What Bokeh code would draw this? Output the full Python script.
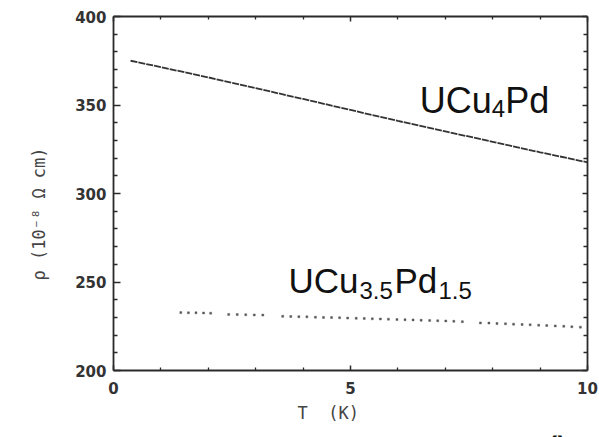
from bokeh.plotting import figure
from bokeh.models import Range1d, LinearAxis, FixedTicker, Label, Title
from bokeh.layouts import column
from bokeh.embed import file_html
from bokeh.resources import INLINE

# UCu4Pd resistivity (continuous trace), T in K, rho in 10^-8 ohm cm
cu4_t = [0.36, 1.0, 2.0, 3.0, 4.0, 5.0, 6.0, 7.0, 8.0, 9.0, 10.0]
cu4_rho = [375.0, 371.4, 365.6, 359.5, 353.4, 347.2, 341.0, 335.1, 329.2, 323.3, 317.6]

# UCu3.5Pd1.5 resistivity (sampled points)
pd15_t = [1.42, 1.58, 1.74, 1.90, 2.05,
          2.43, 2.61, 2.79, 2.97, 3.15,
          3.57, 3.74, 3.91, 4.08, 4.26, 4.43, 4.60, 4.77, 4.94, 5.12, 5.29, 5.46,
          5.63, 5.80, 5.98, 6.15, 6.32, 6.49, 6.67, 6.84, 7.01, 7.18, 7.36,
          7.74, 7.92, 8.09, 8.27, 8.44, 8.62, 8.79, 8.97, 9.14, 9.32, 9.50, 9.67, 9.85]
pd15_rho = [232.7, 232.6, 232.6, 232.5, 232.4,
            231.7, 231.6, 231.5, 231.4, 231.3,
            230.6, 230.5, 230.4, 230.3, 230.1, 230.0, 229.9, 229.8, 229.6, 229.5, 229.4, 229.2,
            229.1, 229.0, 228.8, 228.7, 228.6, 228.4, 228.3, 228.1, 228.0, 227.8, 227.6,
            226.9, 226.8, 226.6, 226.4, 226.2, 226.0, 225.8, 225.6, 225.4, 225.2, 225.0, 224.7, 224.5]

x_major = [0, 5, 10]
x_minor = [1, 2, 3, 4, 6, 7, 8, 9]
y_major = [200, 250, 300, 350, 400]
y_minor = [210, 220, 230, 240, 260, 270, 280, 290, 310, 320, 330, 340, 360, 370, 380, 390]

p = figure(width=599, height=430, output_backend="svg", toolbar_location=None,
           x_range=Range1d(0, 10), y_range=Range1d(200, 400),
           min_border_left=113, min_border_right=12, min_border_top=16, min_border_bottom=60,
           x_axis_location=None, y_axis_location=None)
p.outline_line_color = None
p.xgrid.visible = False
p.ygrid.visible = False
p.background_fill_color = "white"
p.border_fill_color = "white"

AX = "#2a2a2a"


def style_axis(ax, ticks, minors, tin, mtin, labels=True):
    ax.ticker = FixedTicker(ticks=ticks, minor_ticks=minors)
    ax.axis_line_color = AX
    ax.axis_line_width = 1.8
    ax.major_tick_line_color = AX
    ax.minor_tick_line_color = AX
    ax.major_tick_line_width = 1.5
    ax.minor_tick_line_width = 1.3
    ax.major_tick_in = tin
    ax.major_tick_out = 0
    ax.minor_tick_in = mtin
    ax.minor_tick_out = 0
    if labels:
        ax.major_label_text_font = "DejaVu Sans"
        ax.major_label_text_font_style = "bold"
        ax.major_label_text_font_size = "15px"
        ax.major_label_text_color = "#333333"
    else:
        ax.major_label_text_color = None
        ax.major_label_text_font_size = "1px"
        ax.major_label_standoff = 0


left = LinearAxis()
style_axis(left, y_major, y_minor, 7, 4)
left.major_label_standoff = 7
p.add_layout(left, "left")

right = LinearAxis()
style_axis(right, y_major, y_minor, 5, 4, labels=False)
p.add_layout(right, "right")

bottom = LinearAxis()
style_axis(bottom, x_major, x_minor, 5, 3)
bottom.major_label_standoff = 11
p.add_layout(bottom, "below")

top = LinearAxis()
style_axis(top, x_major, x_minor, 5, 3, labels=False)
p.add_layout(top, "above")

# axis titles, set in a typewriter face
p.add_layout(Title(text="T\u00a0\u00a0(K)", align="left", offset=184, standoff=8,
                   text_font="DejaVu Sans Mono", text_font_size="17px",
                   text_font_style="normal", text_color="#444444"), "below")
p.add_layout(Title(text="ρ (10⁻⁸ Ω cm)", align="left", offset=90, standoff=48,
                   text_font="DejaVu Sans Mono", text_font_size="17px",
                   text_font_style="normal", text_color="#444444"), "left")

# data
p.line(cu4_t, cu4_rho, line_color="#333333", line_width=1.8, line_dash="7 1")
p.scatter(pd15_t, pd15_rho, marker="square", size=2.0, fill_color="#555555",
          line_color="#555555", line_width=0.4)

# compound labels built from main text + subscripts
MAIN = "Liberation Sans"


def chem(x, y, parts, offsets, size_main, size_sub, drop):
    for (txt, is_sub), dx in zip(parts, offsets):
        p.add_layout(Label(x=x, y=y, x_offset=dx, y_offset=-drop if is_sub else 0,
                           text=txt, text_font=MAIN,
                           text_font_size=f"{size_sub if is_sub else size_main}px",
                           text_color="#111111", text_baseline="alphabetic",
                           text_align="left"))


chem(6.46, 352.3, [("UCu", False), ("4", True), ("Pd", False)],
     [0, 72, 85.5], 36, 24, 8)
chem(3.69, 250.6, [("UCu", False), ("3.5", True), ("Pd", False), ("1.5", True)],
     [0, 71, 106, 150], 35, 24, 10)

# strip along the lower edge holding the panel letter
p2 = figure(width=599, height=7, output_backend="svg", toolbar_location=None,
            x_range=Range1d(0, 599), y_range=Range1d(0, 7),
            min_border=0, x_axis_location=None, y_axis_location=None)
p2.outline_line_color = None
p2.xgrid.visible = False
p2.ygrid.visible = False
p2.add_layout(Label(x=561, y=2, text="A", text_font=MAIN,
                    text_font_style="bold", text_font_size="28px",
                    text_color="#111111", text_align="center", text_baseline="alphabetic"))

layout = column(p, p2, spacing=0)
open("out.html", "w").write(file_html(layout, INLINE))
